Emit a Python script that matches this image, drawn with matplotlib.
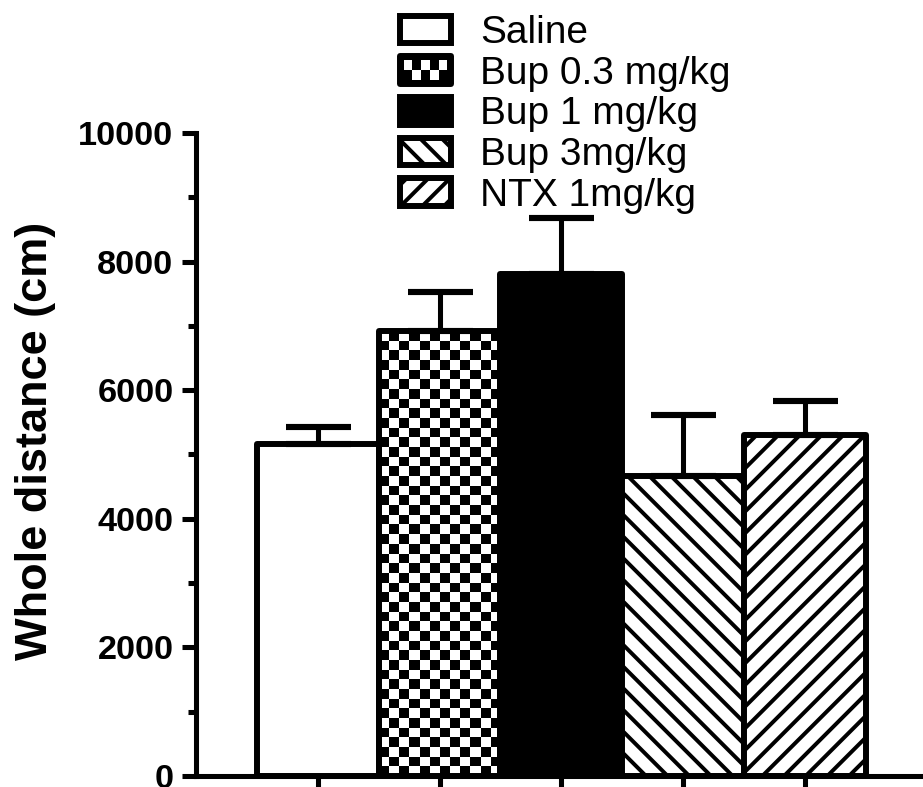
import matplotlib.pyplot as plt
import numpy as np
from matplotlib.patches import Patch, Rectangle
from matplotlib.legend_handler import HandlerBase

plt.rcParams['font.family'] = ['Liberation Sans', 'DejaVu Sans']
plt.rcParams['hatch.linewidth'] = 2.2
plt.rcParams['hatch.color'] = 'black'

# dados
grupos = ["Saline", "Bup 0.3 mg/kg", "Bup 1 mg/kg", "Bup 3mg/kg", "NTX 1mg/kg"]
medias = [5160, 6920, 7800, 4660, 5310]
erros = [265, 610, 880, 960, 520]

# estilo de cada barra
cores = ["white", "none", "black", "white", "white"]
hachuras = [None, None, None, "\\\\", "//"]
xadrez = [False, True, False, False, False]

DPI = 130
LW = 3.3


class HandlerXadrez(HandlerBase):
    # quadradinho de xadrez para a legenda
    def create_artists(self, legend, orig_handle, xdescent, ydescent,
                       width, height, fontsize, trans):
        x0, y0 = -xdescent, -ydescent
        arts = [Rectangle((x0, y0), width, height, facecolor="black",
                          edgecolor="black", lw=LW, joinstyle="round",
                          transform=trans)]
        pad = LW * 0.6
        nc, nr = 5, 2
        cw = (width - 2 * pad) / nc
        ch = (height - 2 * pad) / nr
        for i in range(nr):
            for j in range(nc):
                if (i + j) % 2 == 1:
                    arts.append(Rectangle((x0 + pad + j * cw, y0 + pad + i * ch),
                                          cw, ch, facecolor="white", lw=0,
                                          transform=trans))
        return arts


fig = plt.figure(figsize=(923 / DPI, 787 / DPI), dpi=DPI)
ax = fig.add_axes([196 / 923, 11 / 787, 1 - 196 / 923, 643 / 787])

x = np.arange(len(grupos))
barras = ax.bar(x, medias, width=1.0, color=cores, edgecolor="black",
                linewidth=LW, zorder=2)
for b, h in zip(barras, hachuras):
    b.set_joinstyle("round")
    if h:
        b.set_hatch(h)

# preenchimento xadrez
for xi, m, b, usa in zip(x, medias, barras, xadrez):
    if not usa:
        continue
    ncol = 12
    nlin = int(round(m / 150.0))
    padrao = np.indices((nlin, ncol)).sum(axis=0) % 2
    im = ax.imshow(padrao, cmap="gray", extent=[xi - 0.5, xi + 0.5, 0, m],
                   origin="lower", interpolation="nearest", aspect="auto",
                   zorder=1)
    im.set_clip_path(b)

ax.errorbar(x, medias, yerr=[np.zeros(len(erros)), erros], fmt="none",
            ecolor="black", elinewidth=2.8, capsize=18, capthick=3.4, zorder=3)

ax.set_xlim(-1, 4.97)
ax.set_ylim(0, 10000)
ax.spines["top"].set_visible(False)
ax.spines["right"].set_visible(False)
ax.spines["left"].set_linewidth(2.8)
ax.spines["bottom"].set_linewidth(2.8)
ax.set_yticks(np.arange(0, 10001, 2000))
ax.set_yticks(np.arange(1000, 10000, 2000), minor=True)
ax.set_xticks(x)
ax.set_xticklabels([])
ax.tick_params(axis="y", which="major", length=7.5, width=2.8, pad=5,
               labelsize=19)
ax.tick_params(axis="y", which="minor", length=4.4, width=2.8)
ax.tick_params(axis="x", length=8, width=2.8)
for t in ax.get_yticklabels():
    t.set_fontweight("bold")

fig.text(0.038, 1 - 441 / 787, "Whole distance (cm)", rotation=90,
         ha="center", va="center", fontsize=25, fontweight="bold")

# legenda
proxies = []
mapa = {}
for c, h, usa in zip(cores, hachuras, xadrez):
    p = Patch(facecolor=c, edgecolor="black", hatch=h, linewidth=LW,
              joinstyle="round")
    if usa:
        mapa[p] = HandlerXadrez()
    proxies.append(p)

fig.legend(proxies, grupos, loc="upper left", bbox_to_anchor=(400 / 923, 1 - 15 / 787),
           frameon=False, fontsize=21.5, handlelength=1.31, handleheight=0.72,
           handletextpad=0.75, labelspacing=0.12, borderpad=0, borderaxespad=0,
           handler_map=mapa)

plt.savefig("out.png", dpi=DPI)
